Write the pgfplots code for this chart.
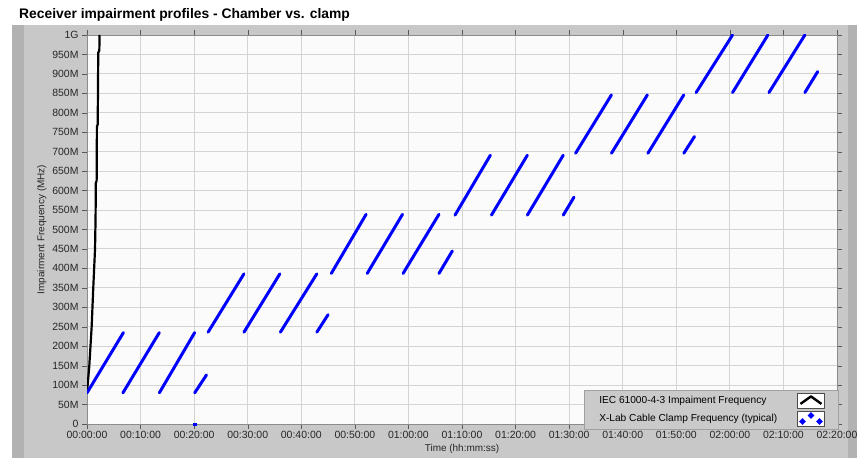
\documentclass[border=0pt]{standalone}
\usepackage{pgfplots}
\pgfplotsset{compat=1.18}
\usepackage{fontspec}
\setmainfont{Liberation Sans}
\definecolor{panel}{RGB}{200,200,200}
\definecolor{paneldark}{RGB}{178,178,178}
\definecolor{plotbg}{RGB}{251,251,251}
\definecolor{gridgray}{RGB}{212,212,212}
\definecolor{legbg}{RGB}{202,202,202}
\definecolor{legdraw}{RGB}{160,160,160}
\definecolor{lvblue}{RGB}{0,0,255}
\begin{document}
\begin{tikzpicture}
\path[use as bounding box, fill=white] (0,0) rectangle (864bp,460bp);
\fill[panel] (12bp,2bp) rectangle (857bp,435bp);
\fill[paneldark] (12bp,2bp) rectangle (24bp,435bp);
\fill[paneldark] (848bp,2bp) rectangle (857bp,435bp);
\node[anchor=base west, font=\bfseries\fontsize{13.9}{16}\selectfont, inner sep=0pt] at (19bp,441.5bp) {Receiver impairment profiles - Chamber vs. clamp};
\begin{axis}[
  at={(87bp,36bp)}, anchor=south west,
  scale only axis, width=750bp, height=389bp,
  xmin=0, xmax=140, ymin=0, ymax=1000,
  axis background/.style={fill=plotbg},
  axis line style={draw=black!45},
  grid=major, major grid style={gridgray, line width=0.9bp},
  tick align=outside, major tick length=5bp, tick style={black!65},
  xtick={0,10,...,140},
  xticklabels={00:00:00,00:10:00,00:20:00,00:30:00,00:40:00,00:50:00,01:00:00,01:10:00,01:20:00,01:30:00,01:40:00,01:50:00,02:00:00,02:10:00,02:20:00},
  ytick={0,50,...,1000},
  yticklabels={0,50M,100M,150M,200M,250M,300M,350M,400M,450M,500M,550M,600M,650M,700M,750M,800M,850M,900M,950M,1G},
  tick label style={font=\fontsize{10.5}{12}\selectfont, text=black!85},
  xticklabel style={yshift=1bp},
  xlabel={Time (hh:mm:ss)}, ylabel={Impairment Frequency (MHz)},
  label style={font=\fontsize{10}{11}\selectfont, text=black!85},
  xlabel style={yshift=1bp},
  ylabel style={yshift=-1bp},
  unbounded coords=jump,
  legend plot pos=right,
  legend style={at={(1.0013,-0.0129)}, anchor=south east, fill=legbg, draw=legdraw,
    font=\fontsize{10.2}{12}\selectfont, inner xsep=13bp, inner ysep=2bp, row sep=3bp,
    cells={anchor=west}, /tikz/every odd column/.append style={column sep=18bp}},
]
\addplot[black, line width=2.2bp, line join=round,
  legend image code/.code={
    \draw[fill=white, draw=black!70, line width=0.6bp] (0bp,-7.5bp) rectangle (27bp,7.5bp);
    \draw[black, line width=2.4bp] (3bp,-3.5bp) -- (13.5bp,4bp) -- (24bp,-3.5bp);
  }] coordinates {
  (0,80) (0.43,150) (0.87,250) (1.17,350) (1.5,450) (1.6,530) (1.65,620) (1.8,625)
  (1.85,765) (2.0,770) (2.1,955) (2.3,960) (2.35,1000)
};
\addlegendentry{IEC 61000-4-3 Impaiment Frequency}
\addplot[lvblue, line width=3bp, line cap=round,
  legend image code/.code={
    \draw[fill=white, draw=black!70, line width=0.6bp] (0bp,-7.5bp) rectangle (27bp,7.5bp);
    \fill[lvblue] (5bp,-2.5bp) circle (1.2bp);
    \fill[lvblue] (13.5bp,3.5bp) circle (1.2bp);
    \fill[lvblue] (22bp,-2.5bp) circle (1.2bp);
  }] coordinates {
  (0,80) (6.8,235) (6.75,nan)
  (6.7,80) (13.5,235) (13.5,nan)
  (13.5,80) (20.1,235) (20.1,nan)
  (20.1,80) (22.3,126) (22.4,nan)
  (22.6,236) (29.3,386) (29.3,nan)
  (29.3,236) (36.0,386) (36.0,nan)
  (36.1,236) (42.9,386) (42.9,nan)
  (42.9,236) (45.0,281) (45.2,nan)
  (45.6,387) (52.1,539) (52.2,nan)
  (52.3,387) (58.9,539) (58.9,nan)
  (59.0,387) (65.7,539) (65.7,nan)
  (65.7,387) (68.2,445) (68.4,nan)
  (68.7,537) (75.3,691) (75.4,nan)
  (75.5,537) (82.2,691) (82.2,nan)
  (82.2,537) (88.9,691) (88.9,nan)
  (88.9,537) (90.9,583) (91.0,nan)
  (91.2,696) (97.9,846) (97.9,nan)
  (97.9,696) (104.6,846) (104.6,nan)
  (104.7,696) (111.4,846) (111.4,nan)
  (111.4,696) (113.4,739) (113.5,nan)
  (113.7,852) (120.5,1000) (120.5,nan)
  (120.5,852) (127.1,1000) (127.1,nan)
  (127.3,852) (134.0,1000) (134.0,nan)
  (134.0,852) (136.4,906)
};
\addlegendentry{X-Lab Cable Clamp Frequency (typical)}
\addplot[forget plot, only marks, mark=square*, mark size=1.2bp, lvblue] coordinates {(20.1,0)};
\end{axis}
\end{tikzpicture}
\end{document}
